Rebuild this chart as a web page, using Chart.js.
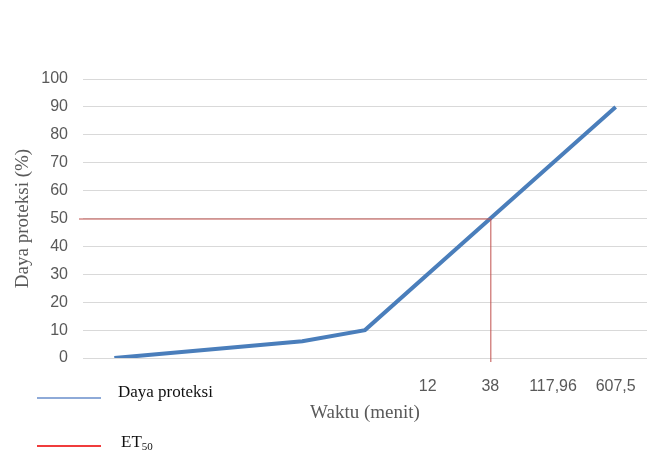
<!DOCTYPE html>
<html>
<head>
<meta charset="utf-8">
<script src="https://cdn.jsdelivr.net/npm/chart.js@4"></script>
<style>
  body { margin: 0; background: #fff; }
  #wrap { position: relative; width: 665px; height: 470px; }
  .leg { position: absolute; font-family: "Liberation Serif", serif; font-size: 17px; color: #111; }
  .leg-line { position: absolute; height: 2px; }
</style>
</head>
<body>
<div id="wrap">
  <canvas id="chart" width="665" height="470"></canvas>
  <div class="leg-line" style="left:37px; top:397px; width:64px; background:#8eaad8;"></div>
  <div class="leg" style="left:118px; top:382px;">Daya proteksi</div>
  <div class="leg-line" style="left:37px; top:445px; width:64px; background:#f03c3c;"></div>
  <div class="leg" style="left:121px; top:432px;">ET<sub style="font-size:11px; vertical-align:-3px;">50</sub></div>
</div>
<script>
// kategori sumbu x (hanya sebagian yang berlabel)
const waktuLabels = ['', '', '', '', '', '12', '38', '117,96', '607,5'];
// daya proteksi (%) per kategori, null = tidak ada titik
const dayaProteksi = [0, null, null, 6, 10, null, 50, null, 90];
const et50Value = 50;
const et50Label = '38';

const et50Lines = {
  id: 'et50Lines',
  afterDatasetsDraw(chart) {
    const { ctx, scales: { x, y } } = chart;
    const px = x.getPixelForValue(waktuLabels.indexOf(et50Label));
    const py = y.getPixelForValue(et50Value);
    ctx.save();
    ctx.strokeStyle = '#c0504d';
    ctx.lineWidth = 1;
    ctx.beginPath();
    ctx.moveTo(chart.chartArea.left - 4, py + 0.5);
    ctx.lineTo(px, py + 0.5);
    ctx.moveTo(px + 0.5, py);
    ctx.lineTo(px + 0.5, y.getPixelForValue(0) + 4);
    ctx.stroke();
    ctx.restore();
  }
};

new Chart(document.getElementById('chart').getContext('2d'), {
  type: 'line',
  data: {
    labels: waktuLabels,
    datasets: [{
      label: 'Daya proteksi',
      data: dayaProteksi,
      borderColor: '#4a7ebb',
      borderWidth: 4,
      pointRadius: 0,
      spanGaps: true,
      tension: 0
    }]
  },
  options: {
    responsive: false,
    animation: false,
    layout: { padding: { top: 79, right: 18, left: 0, bottom: 0 } },
    plugins: { legend: { display: false }, tooltip: { enabled: false } },
    scales: {
      x: {
        offset: true,
        grid: { display: false },
        border: { display: false },
        ticks: { padding: 11, color: '#595959', font: { family: 'Liberation Sans', size: 16 }, autoSkip: false, maxRotation: 0 },
        title: { display: true, text: 'Waktu (menit)', color: '#595959', font: { family: 'Liberation Serif', size: 19 }, padding: { top: 0, bottom: 46 } },
        afterFit(scale) { scale.height = 112; }
      },
      y: {
        min: 0,
        max: 100,
        grid: { color: '#d9d9d9', lineWidth: 1, drawTicks: false },
        border: { display: false },
        ticks: { stepSize: 10, padding: 15, color: '#595959', font: { family: 'Liberation Sans', size: 16 } },
        title: { display: true, text: 'Daya proteksi (%)', color: '#595959', font: { family: 'Liberation Serif', size: 19 }, padding: { top: 12, bottom: 0 } },
        afterFit(scale) { scale.width = 83; }
      }
    }
  },
  plugins: [et50Lines]
});
</script>
</body>
</html>
